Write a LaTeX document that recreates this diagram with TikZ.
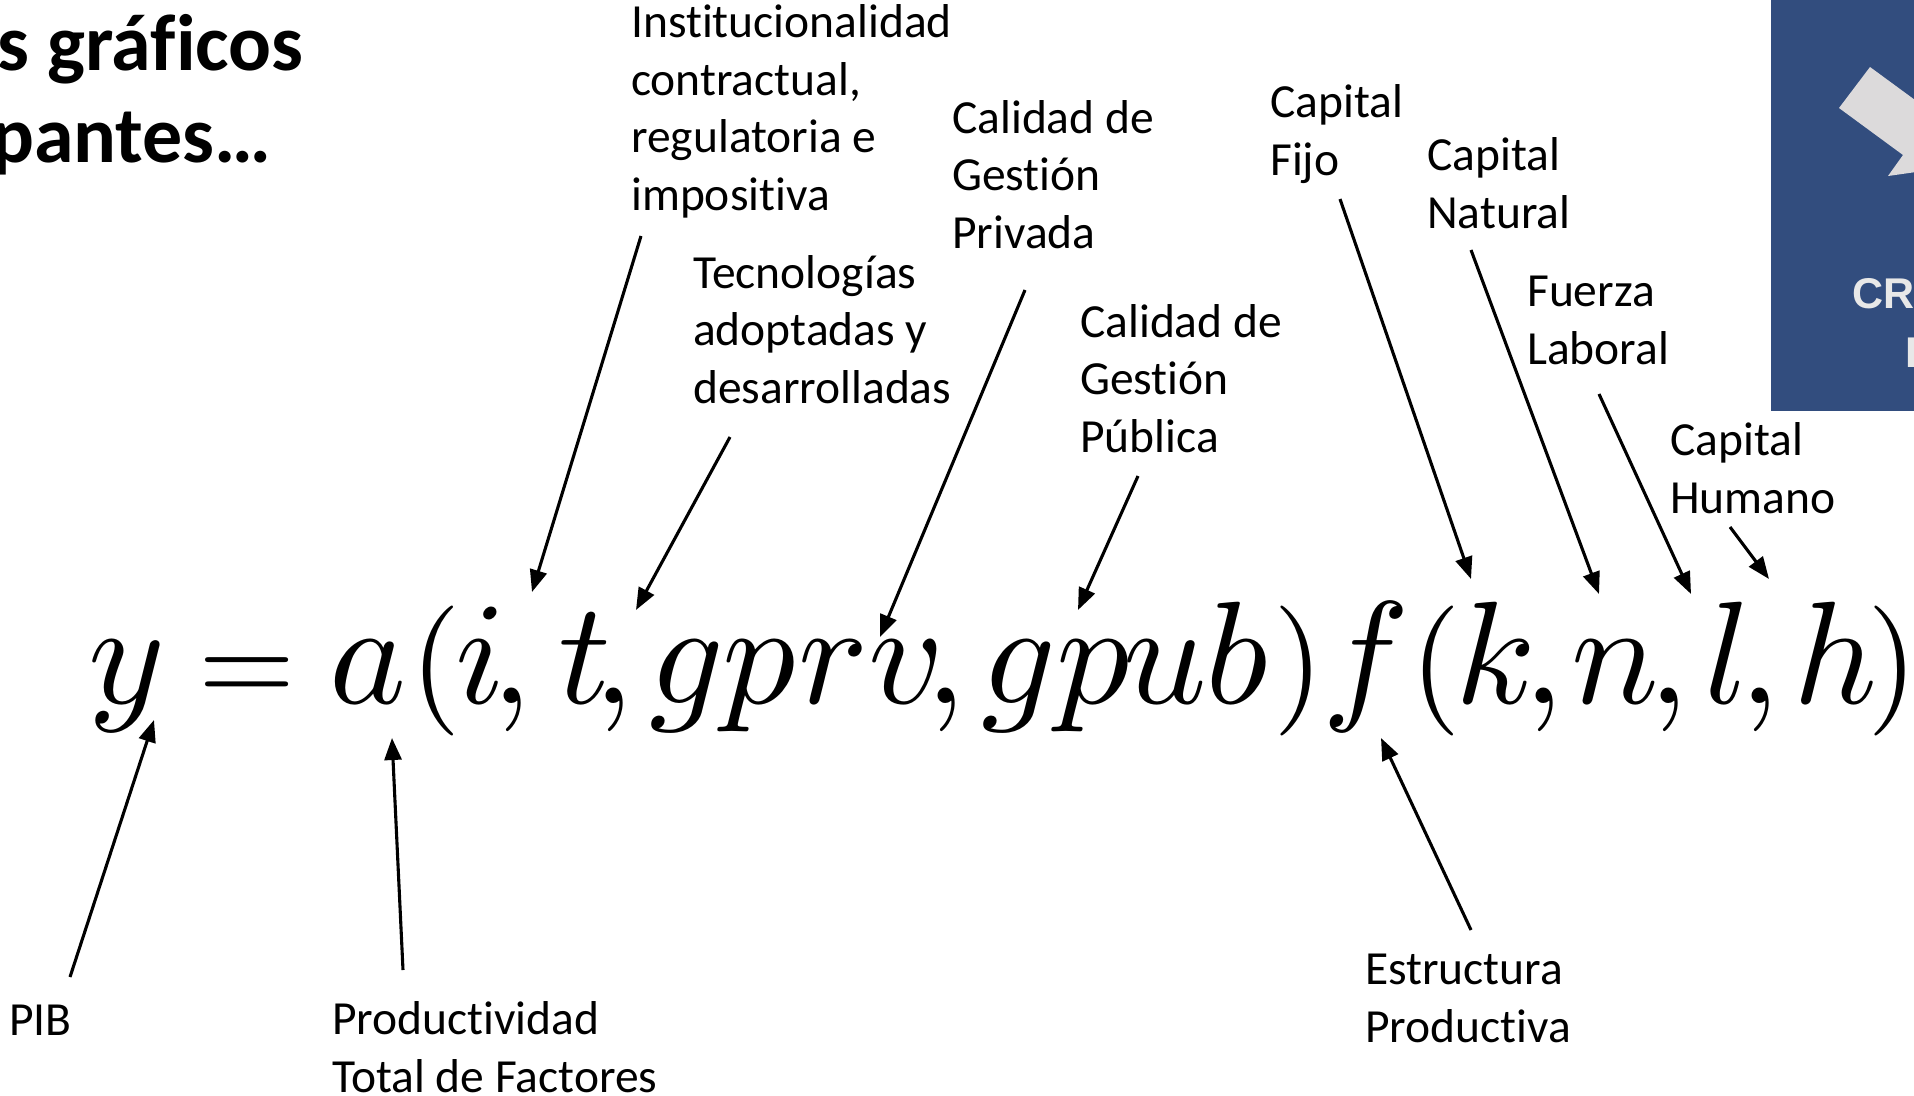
\documentclass[tikz,border=0pt]{standalone}
\usepackage[no-math]{fontspec}
\setmainfont{Carlito}[Ligatures=NoCommon]
\newfontfamily\boxfont{Liberation Sans}
\usetikzlibrary{arrows.meta}

\definecolor{slideblue}{RGB}{50,77,126}
\definecolor{arrowgray}{RGB}{220,218,219}
\definecolor{boxtext}{RGB}{232,232,232}
\newcommand{\lblfont}{\fontsize{47.5}{57.4}\selectfont}
\newcommand{\eqg}[2]{\scalebox{#1}{$#2$}}

\begin{document}
\begin{tikzpicture}[x=1pt, y=-1pt,
  lbl/.style={font=\lblfont, align=left, inner sep=0pt, anchor=base west},
  ttl/.style={font=\fontsize{80}{92}\selectfont\bfseries, inner sep=0pt, anchor=base west},
  boxtxt/.style={font=\boxfont\bfseries\fontsize{43}{50}\selectfont, text=boxtext, inner sep=0pt, anchor=base west},
  eqglyph/.style={inner sep=0pt, anchor=base},
  pointer/.style={-{Triangle[length=22pt,width=17pt]}, line width=3.1pt}]
  \clip (0,0) rectangle (1914,1095);

  % title, cut at the left edge
  \node[ttl] (ttl1) at (-3,70) {s gráficos};
  \node[ttl] (ttl2) at (-9,162) {pantes…};

  % blue panel, cut at the right edge
  \fill[slideblue] (1771,-10) rectangle (1930,411);
  \fill[arrowgray] (1870,67) -- (1930,111) -- (1930,170) -- (1888,176)
    -- (1903,155) -- (1839,108) -- cycle;
  \node[boxtxt] (cr) at (1852,308) {CR};
  \node[boxtxt] (dd) at (1905,367) {D};

  % the equation
  \foreach \gx/\gc [count=\gi] in {127/y, 368/a, 481/i, 512/{,}, 585/t, 614/{,},
      687/g, 759/p, 833/r, 906/v, 946/{,}, 1019/g, 1093/p, 1165/u, 1237/b,
      1366/f, 1496/k, 1544/{,}, 1615/n, 1669/{,}, 1728/l, 1760/{,}, 1836/h}
    \node[eqglyph] (g\gi) at (\gx,703) {\eqg{14.6}{\gc}};
  \node[eqglyph] (eqs) at (247,703) {\eqg{12.5}{=}};
  \foreach \gx/\gc [count=\gi] in {436/{(}, 1299/{)}, 1436/{(}, 1893/{)}}
    \node[eqglyph] (p\gi) at (\gx,703) {\eqg{13}{\gc}};

  % labels above (placed at the baseline of their last line)
  \node[lbl] (inst) at (631,210) {Institucionalidad\\contractual,\\regulatoria e\\impositiva};
  \node[lbl] (tec) at (693,403) {Tecnologías\\adoptadas y\\desarrolladas};
  \node[lbl] (cpriv) at (952,248) {Calidad de\\Gestión\\Privada};
  \node[lbl] (cpub) at (1080,452) {Calidad de\\Gestión\\Pública};
  \node[lbl] (kfijo) at (1270,175) {Capital\\Fijo};
  \node[lbl] (knat) at (1427,228) {Capital\\Natural};
  \node[lbl] (lab) at (1527,364) {Fuerza\\Laboral};
  \node[lbl] (khum) at (1670,513) {Capital\\Humano};
  % labels below
  \node[lbl] (pib) at (9,1035) {PIB};
  \node[lbl] (ptf) at (332,1092) {Productividad\\Total de Factores};
  \node[lbl] (estr) at (1365,1042) {Estructura\\Productiva};

  % arrow ends
  \coordinate (inst-t) at (641,236);  \coordinate (inst-h) at (532,592);
  \coordinate (tec-t) at (730,437);   \coordinate (tec-h) at (636,610);
  \coordinate (cpriv-t) at (1025,290); \coordinate (cpriv-h) at (880,637);
  \coordinate (cpub-t) at (1138,476); \coordinate (cpub-h) at (1078,610);
  \coordinate (kfijo-t) at (1340,199); \coordinate (kfijo-h) at (1471,579);
  \coordinate (knat-t) at (1471,250); \coordinate (knat-h) at (1599,594);
  \coordinate (lab-t) at (1599,394);  \coordinate (lab-h) at (1691,594);
  \coordinate (khum-t) at (1730,527); \coordinate (khum-h) at (1769,579);
  \coordinate (pib-t) at (70,977);    \coordinate (pib-h) at (154,720);
  \coordinate (ptf-t) at (403,970);   \coordinate (ptf-h) at (392,738);
  \coordinate (estr-t) at (1471,930); \coordinate (estr-h) at (1381,738);

  \foreach \n in {inst, tec, cpriv, cpub, kfijo, knat, lab, khum, pib, ptf, estr}
    \draw[pointer] (\n-t) -- (\n-h);
\end{tikzpicture}
\end{document}
